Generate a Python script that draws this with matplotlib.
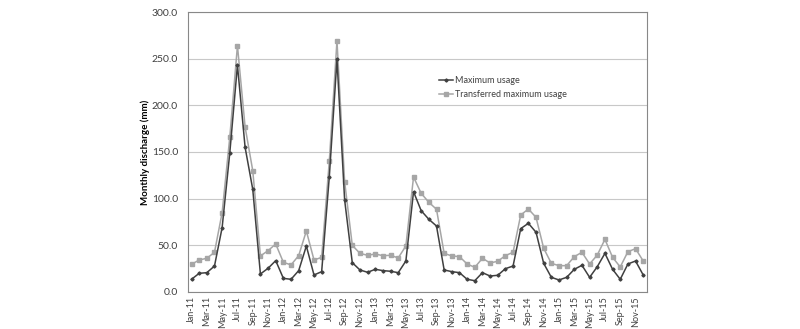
import matplotlib
matplotlib.use("Agg")
import matplotlib.pyplot as plt
import numpy as np

plt.rcParams['font.family'] = ['Lato', 'DejaVu Sans']

months = ["Jan", "Feb", "Mar", "Apr", "May", "Jun", "Jul", "Aug", "Sep", "Oct", "Nov", "Dec"]
years = ["11", "12", "13", "14", "15"]
categories = [f"{m}-{y}" for y in years for m in months]

max_usage = [13.6, 20.0, 20.7, 27.8, 69.0, 149.0, 243.0, 155.0, 110.0, 19.3, 25.4, 33.6,
             14.6, 13.6, 22.9, 49.3, 18.2, 21.8, 123.6, 249.3, 98.6, 31.4, 23.6, 21.1,
             24.3, 22.9, 22.2, 20.7, 33.2, 107.5, 87.1, 77.9, 70.7, 23.6, 21.8, 20.7,
             13.6, 12.1, 20.7, 17.1, 17.9, 25.0, 27.8, 67.9, 73.6, 64.0, 30.7, 15.7,
             12.9, 15.7, 24.3, 28.6, 15.7, 27.1, 41.4, 24.3, 13.6, 30.0, 33.2, 18.2]

transferred = [29.6, 34.3, 36.1, 42.5, 85.0, 165.7, 264.0, 176.8, 130.0, 38.6, 44.3, 51.4,
               31.8, 29.0, 39.0, 65.4, 34.3, 37.1, 140.4, 269.0, 118.2, 50.0, 41.4, 39.3,
               40.7, 38.9, 39.3, 36.5, 49.3, 123.2, 105.7, 96.1, 88.6, 41.4, 38.6, 37.9,
               30.0, 26.4, 36.1, 31.1, 32.9, 39.0, 42.5, 82.5, 88.9, 80.0, 46.8, 30.7,
               28.2, 28.2, 37.9, 42.5, 30.0, 39.6, 56.4, 37.1, 26.8, 43.2, 46.4, 33.2]

series_names = ["Maximum usage", "Transferred maximum usage"]
y_ticks = [0, 50, 100, 150, 200, 250, 300]

fig = plt.figure(figsize=(8, 3.29), dpi=100)
ax = fig.add_axes([0.2346, 0.1125, 0.8088 - 0.2346, 0.9635 - 0.1125])

x = np.arange(len(categories))
ax.plot(x, max_usage, color="#404040", lw=1.1, marker="D", ms=1.6, label=series_names[0], zorder=3)
ax.plot(x, transferred, color="#a6a6a6", lw=1.1, marker="s", ms=2.2, label=series_names[1], zorder=2)

ax.set_xlim(-0.5, len(categories) - 0.5)
ax.set_ylim(0, 300)
ax.set_yticks(y_ticks)
ax.set_yticklabels([f"{v:.1f}" for v in y_ticks], fontsize=7.5, color="#404040")
ax.set_xticks(x[::2])
ax.set_xticklabels(categories[::2], rotation=90, fontsize=6.5, color="#404040")
ax.tick_params(axis="x", length=0, pad=3)
ax.tick_params(axis="y", length=0, pad=7)
ax.grid(axis="y", color="#c8c8c8", lw=0.8)
ax.set_axisbelow(True)
for s in ax.spines.values():
    s.set_color("#888888")
    s.set_linewidth(0.8)

ax.set_ylabel("Monthly discharge (mm)", fontsize=7, fontweight="bold", labelpad=1)

ax.legend(loc="upper left", bbox_to_anchor=(0.53, 0.8), frameon=False, fontsize=6.5,
          handlelength=1.5, handletextpad=0.2, labelspacing=0.55, labelcolor="#404040")

fig.savefig("out.png", dpi=100)
